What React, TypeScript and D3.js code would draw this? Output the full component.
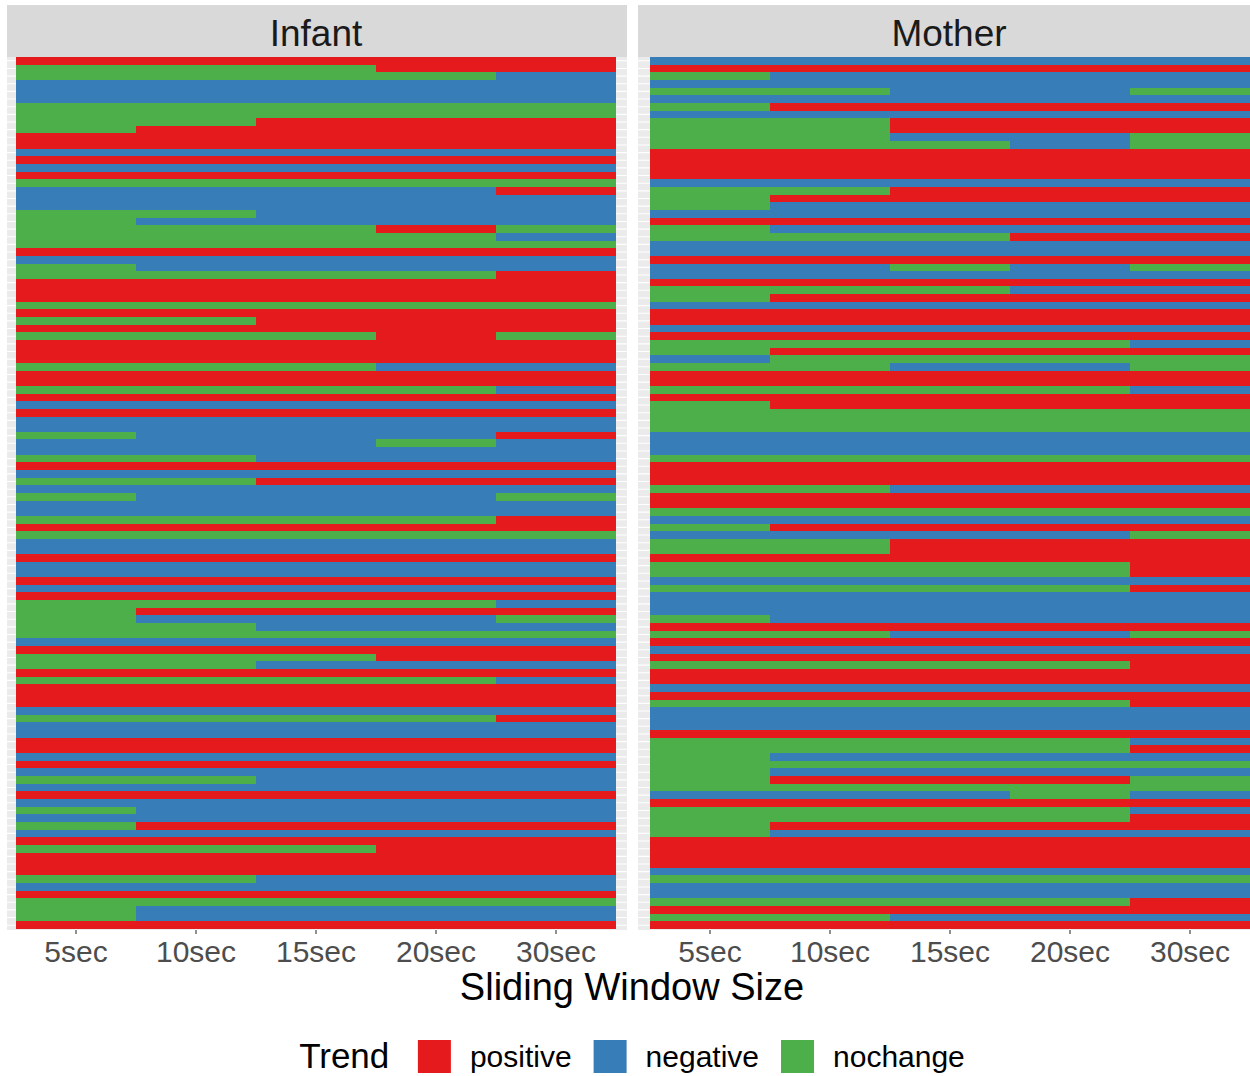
import React, { useEffect, useRef } from 'react';
import * as d3 from 'd3';

// window sizes on the x axis
const windowSizes = ['5sec', '10sec', '15sec', '20sec', '30sec'];

// trend levels and their Set1 colours
const trendLevels = ['positive', 'negative', 'nochange'];
const trendColors = ['#E41A1C', '#377EB8', '#4DAF4A'];

// one string per row, one character per window size: + positive, - negative, 0 nochange
const codeToTrend: Record<string, string> = { '+': 'positive', '-': 'negative', '0': 'nochange' };

const infantRows = [
  '+++++', '000++', '0000-', '-----', '-----', '-----', '00000', '00000', '00+++', '0++++',
  '+++++', '+++++', '-----', '+++++', '-----', '+++++', '00000', '----+', '-----', '-----',
  '00---', '0----', '000+0', '0000-', '00000', '+++++', '-----', '0----', '0000+', '+++++',
  '+++++', '+++++', '00000', '+++++', '00+++', '+++++', '000+0', '+++++', '+++++', '+++++',
  '000--', '+++++', '+++++', '0000-', '+++++', '-----', '+++++', '-----', '-----', '0---+',
  '---0-', '-----', '00---', '+++++', '-----', '00+++', '-----', '0---0', '-----', '-----',
  '0000+', '+++++', '00000', '-----', '-----', '+++++', '-----', '-----', '+++++', '-----',
  '+++++', '0000-', '0++++', '0---0', '00---', '00000', '-----', '+++++', '000++', '00---',
  '+++++', '0000-', '+++++', '+++++', '+++++', '-----', '0000+', '-----', '-----', '+++++',
  '+++++', '-----', '+++++', '-----', '00---', '-----', '+++++', '-----', '0----', '-----',
  '0++++', '-----', '+++++', '000++', '+++++', '+++++', '+++++', '00---', '-----', '+++++',
  '00000', '0----', '0----', '+++++',
];

const motherRows = [
  '-----', '+++++', '0----', '-----', '00--0', '-----', '0++++', '-----', '00+++', '00+++',
  '00--0', '000-0', '+++++', '+++++', '+++++', '+++++', '-----', '00+++', '0++++', '0----',
  '-----', '+++++', '0----', '000++', '-----', '-----', '+++++', '--0-0', '-----', '+++++',
  '000--', '0++++', '-----', '+++++', '+++++', '-----', '+++++', '0000-', '0++++', '-0000',
  '00--0', '+++++', '+++++', '0000-', '+++++', '0++++', '00000', '00000', '00000', '-----',
  '-----', '-----', '00000', '+++++', '+++++', '+++++', '00---', '+++++', '+++++', '00000',
  '-----', '0++++', '----0', '00+++', '00+++', '+++++', '0000+', '0000+', '-----', '0000+',
  '-----', '-----', '-----', '0----', '+++++', '00--0', '+++++', '-----', '+++++', '0000+',
  '+++++', '+++++', '-----', '+++++', '0000+', '-----', '-----', '-----', '+++++', '0000-',
  '0000+', '0----', '00000', '0----', '0+++0', '00000', '---0-', '+++++', '0000-', '0000+',
  '0++++', '0----', '+++++', '+++++', '+++++', '+++++', '-----', '00000', '-----', '-----',
  '0000+', '+++++', '00---', '+++++',
];

const facets = [
  { name: 'Infant', rows: infantRows, panelL: 7, panelR: 627, tileL: 16, tileR: 616 },
  { name: 'Mother', rows: motherRows, panelL: 638, panelR: 1262, tileL: 650, tileR: 1250 },
];

const FONT = '"Liberation Sans", Arial, Helvetica, sans-serif';

function measure(text: string, size: number) {
  const ctx = document.createElement('canvas').getContext('2d');
  if (!ctx) return text.length * size * 0.5;
  ctx.font = `${size}px "Liberation Sans", Arial, sans-serif`;
  return ctx.measureText(text).width;
}

function TrendTiles() {
  const ref = useRef<SVGSVGElement>(null);
  const width = 1250;
  const height = 1076;

  useEffect(() => {
    const svg = d3.select(ref.current);
    svg.selectAll('*').remove();

    const stripTop = 5;
    const panelTop = 57;
    const panelBottom = 930;

    const color = d3.scaleOrdinal<string, string>().domain(trendLevels).range(trendColors);

    facets.forEach(f => {
      const x = d3.scaleBand().domain(windowSizes).range([f.tileL, f.tileR]);
      const y = d3.scaleBand<number>().domain(d3.range(f.rows.length)).range([57, 929]);
      const g = svg.append('g');

      // panel background
      g.append('rect')
        .attr('x', f.panelL).attr('y', panelTop)
        .attr('width', f.panelR - f.panelL).attr('height', panelBottom - panelTop)
        .attr('fill', '#EBEBEB');

      // grid lines
      g.selectAll('.hgrid')
        .data(y.domain())
        .enter()
        .append('line')
        .attr('x1', f.panelL).attr('x2', f.panelR)
        .attr('y1', d => (y(d) as number) + y.bandwidth() / 2)
        .attr('y2', d => (y(d) as number) + y.bandwidth() / 2)
        .attr('stroke', '#FFFFFF').attr('stroke-width', 1.1);
      g.selectAll('.vgrid')
        .data(windowSizes)
        .enter()
        .append('line')
        .attr('x1', d => (x(d) as number) + x.bandwidth() / 2)
        .attr('x2', d => (x(d) as number) + x.bandwidth() / 2)
        .attr('y1', panelTop).attr('y2', panelBottom)
        .attr('stroke', '#FFFFFF').attr('stroke-width', 1.1);

      // tiles
      const cells = f.rows.flatMap((row, i) =>
        row.split('').map((c, j) => ({ row: i, win: windowSizes[j], trend: codeToTrend[c] }))
      );
      g.selectAll('.tile')
        .data(cells)
        .enter()
        .append('rect')
        .attr('x', d => x(d.win) as number)
        .attr('y', d => y(d.row) as number)
        .attr('width', x.bandwidth())
        .attr('height', y.bandwidth() + 0.3)
        .attr('fill', d => color(d.trend))
        .attr('shape-rendering', 'crispEdges');

      // strip
      g.append('rect')
        .attr('x', f.panelL).attr('y', stripTop)
        .attr('width', f.panelR - f.panelL).attr('height', panelTop - stripTop)
        .attr('fill', '#D9D9D9');
      g.append('text')
        .attr('x', (f.panelL + f.panelR) / 2 - 1)
        .attr('y', 46)
        .attr('text-anchor', 'middle')
        .style('font-family', FONT)
        .style('font-size', '37px')
        .style('fill', '#1A1A1A')
        .text(f.name);

      // x axis
      const axis = g.append('g')
        .attr('transform', `translate(0, ${panelBottom})`)
        .call(d3.axisBottom(x).tickSize(4).tickSizeOuter(0));
      axis.select('.domain').remove();
      axis.selectAll('line').attr('stroke', '#333333').attr('stroke-width', 1.1);
      axis.selectAll('text')
        .attr('y', 32)
        .attr('dy', null)
        .style('font-family', FONT)
        .style('font-size', '30px')
        .style('fill', '#4D4D4D');
    });

    // axis title
    svg.append('text')
      .attr('x', 632)
      .attr('y', 1000)
      .attr('text-anchor', 'middle')
      .style('font-family', FONT)
      .style('font-size', '38px')
      .style('fill', '#000000')
      .text('Sliding Window Size');

    // legend
    const titleW = measure('Trend', 36);
    const labelW = trendLevels.map(t => measure(t, 30));
    const keySize = 33;
    const total = titleW + 26 + d3.sum(labelW) + trendLevels.length * 52 + (trendLevels.length - 1) * 22;
    let lx = 632 - total / 2;
    const legend = svg.append('g');
    legend.append('text')
      .attr('x', lx)
      .attr('y', 1068)
      .style('font-family', FONT)
      .style('font-size', '35px')
      .style('fill', '#000000')
      .text('Trend');
    lx += titleW + 26;
    trendLevels.forEach((t, i) => {
      legend.append('rect')
        .attr('x', lx).attr('y', 1040)
        .attr('width', keySize).attr('height', keySize)
        .attr('fill', color(t));
      legend.append('text')
        .attr('x', lx + 52)
        .attr('y', 1067)
        .style('font-family', FONT)
        .style('font-size', '30px')
        .style('fill', '#000000')
        .text(t);
      lx += 52 + labelW[i] + 22;
    });
  });

  return (
    <svg
      ref={ref}
      width={width}
      height={height}
      style={{ position: 'absolute', left: 0, top: 0, background: '#FFFFFF' }}
    />
  );
}

export default function App() {
  return <TrendTiles />;
}
